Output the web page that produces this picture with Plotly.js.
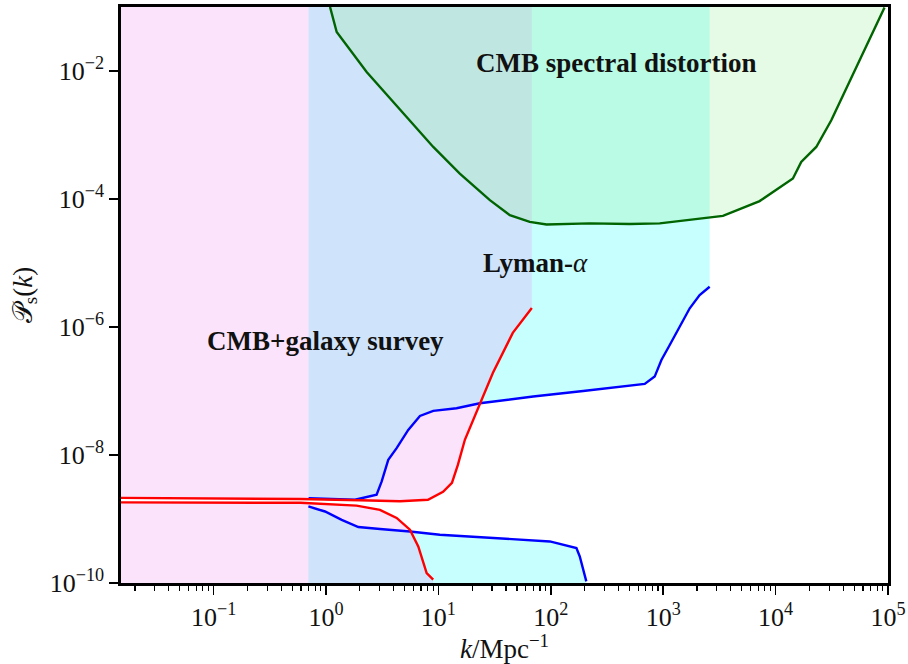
<!DOCTYPE html>
<html>
<head>
<meta charset="utf-8">
<script src="https://cdn.plot.ly/plotly-3.0.1.min.js"></script>
<style>
  html, body { margin: 0; padding: 0; background: #ffffff; }
  #chart { width: 908px; height: 664px; }
</style>
</head>
<body>
<div id="chart"></div>
<script>
// ---- axis ranges ----
const kRange = [0.015, 1e5];
const pRange = [1e-10, 1e-1];

// ---- tick labels ----
const xTickVals = [0.1, 1, 10, 100, 1000, 10000, 100000];
const xTickText = ['10<sup>−1</sup>', '10<sup>0</sup>', '10<sup>1</sup>', '10<sup>2</sup>', '10<sup>3</sup>', '10<sup>4</sup>', '10<sup>5</sup>'];
const yTickVals = [1e-10, 1e-8, 1e-6, 1e-4, 1e-2];
const yTickText = ['10<sup>−10</sup>', '10<sup>−8</sup>', '10<sup>−6</sup>', '10<sup>−4</sup>', '10<sup>−2</sup>'];

// ---- CMB+galaxy survey (red) ----
const redUpperK = [0.015, 0.076, 0.59, 2.0, 4.55, 8.07, 11.0, 13.2, 14.9, 17.2, 23.4, 30.5, 45.9, 67.8];
const redUpperP = [2.14e-9, 2.11e-9, 2.05e-9, 1.96e-9, 1.89e-9, 2.0e-9, 2.66e-9, 3.67e-9, 7.0e-9, 1.73e-8, 6.5e-8, 1.91e-7, 8.1e-7, 1.98e-6];
const redLowerK = [0.015, 0.59, 1.87, 3.02, 4.25, 5.58, 6.62, 7.86, 8.99];
const redLowerP = [1.82e-9, 1.79e-9, 1.62e-9, 1.39e-9, 1.04e-9, 6.8e-10, 3.72e-10, 1.43e-10, 1.13e-10];

// ---- Lyman-alpha (blue) ----
const blueUpperK = [0.70, 1.81, 2.82, 3.13, 3.58, 4.25, 5.39, 6.85, 9.0, 14.5, 23.4, 69.7, 194, 439, 685, 840, 964, 1143, 1402, 1722, 2110, 2590];
const blueUpperP = [2.11e-9, 2.0e-9, 2.39e-9, 3.86e-9, 8.4e-9, 1.28e-8, 2.47e-8, 4.08e-8, 4.89e-8, 5.38e-8, 6.44e-8, 8.2e-8, 1.0e-7, 1.2e-7, 1.29e-7, 1.68e-7, 3.05e-7, 5.24e-7, 1.01e-6, 1.96e-6, 3.16e-6, 4.26e-6];
const blueLowerK = [0.697, 0.98, 1.38, 1.94, 3.02, 5.58, 10.3, 23.4, 49.5, 98, 169, 181, 207];
const blueLowerP = [1.57e-9, 1.31e-9, 9.7e-10, 7.5e-10, 6.97e-10, 6.38e-10, 5.68e-10, 5.22e-10, 4.74e-10, 4.46e-10, 3.52e-10, 2.6e-10, 1.06e-10];

// ---- CMB spectral distortion (green) ----
const greenK = [1.086, 1.245, 2.30, 5.21, 9.0, 15.5, 28.7, 43.2, 65.0, 91.6, 222, 504, 931, 3400, 7210, 14260, 16900, 23000, 31300, 93100];
const greenP = [0.1, 0.0406, 9.66e-3, 1.92e-3, 6.5e-4, 2.5e-4, 9.6e-5, 5.6e-5, 4.4e-5, 4.0e-5, 4.16e-5, 4.06e-5, 4.16e-5, 5.46e-5, 9.27e-5, 2.09e-4, 3.8e-4, 6.5e-4, 1.7e-3, 0.098];

// ---- region labels ----
const labels = ['CMB spectral distortion', 'Lyman-', 'CMB+galaxy survey'];

const CYAN = 'rgba(0,255,255,0.22)';
const PINK = 'rgba(238,130,238,0.22)';
const GREEN = 'rgba(144,238,144,0.23)';

function fillAbove(xs, ys, color) {
  return {
    x: xs.concat([xs[xs.length - 1], xs[0]]),
    y: ys.concat([pRange[1], pRange[1]]),
    mode: 'lines', fill: 'toself', fillcolor: color,
    line: { width: 0 }, hoverinfo: 'skip', showlegend: false
  };
}
function fillBelow(xs, ys, color) {
  return {
    x: xs.concat([xs[xs.length - 1], xs[0]]),
    y: ys.concat([pRange[0], pRange[0]]),
    mode: 'lines', fill: 'toself', fillcolor: color,
    line: { width: 0 }, hoverinfo: 'skip', showlegend: false
  };
}
function curve(xs, ys, color) {
  return { x: xs, y: ys, mode: 'lines', line: { color: color, width: 2.4 }, hoverinfo: 'skip', showlegend: false };
}

const traces = [
  fillAbove(blueUpperK, blueUpperP, CYAN),
  fillBelow(blueLowerK, blueLowerP, CYAN),
  fillAbove(redUpperK, redUpperP, PINK),
  fillBelow(redLowerK, redLowerP, PINK),
  fillAbove(greenK, greenP, GREEN),
  curve(blueUpperK, blueUpperP, '#0000ff'),
  curve(blueLowerK, blueLowerP, '#0000ff'),
  curve(redUpperK, redUpperP, '#ff0000'),
  curve(redLowerK, redLowerP, '#ff0000'),
  curve(greenK, greenP, '#006400')
];

const serif = 'Liberation Serif, Times New Roman, serif';
const annFont = { family: serif, size: 27, color: '#111111' };

const layout = {
  width: 908, height: 664,
  margin: { l: 121, r: 20, t: 7, b: 81, pad: 0 },
  paper_bgcolor: '#ffffff', plot_bgcolor: '#ffffff',
  showlegend: false,
  font: { family: serif, size: 26, color: '#111111' },
  xaxis: {
    type: 'log',
    range: [Math.log10(kRange[0]), Math.log10(kRange[1])],
    tickmode: 'array', tickvals: xTickVals, ticktext: xTickText,
    ticks: 'outside', ticklen: 9, tickwidth: 1.5, tickcolor: '#000',
    minor: { ticks: 'outside', ticklen: 5, tickwidth: 1.2, tickcolor: '#000', dtick: 'D1', showgrid: false },
    showline: true, linewidth: 2.6, linecolor: '#000', mirror: true,
    showgrid: false, zeroline: false,
    tickfont: { family: serif, size: 26, color: '#111' },
    title: { text: '<i>k</i>/Mpc<sup>−1</sup>', font: { family: serif, size: 27, color: '#111' }, standoff: 11 }
  },
  yaxis: {
    type: 'log',
    range: [Math.log10(pRange[0]), Math.log10(pRange[1])],
    tickmode: 'array', tickvals: yTickVals, ticktext: yTickText,
    ticks: 'outside', ticklen: 9, tickwidth: 1.5, tickcolor: '#000',
    showline: true, linewidth: 2.6, linecolor: '#000', mirror: true,
    showgrid: false, zeroline: false,
    tickfont: { family: serif, size: 26, color: '#111' },
    title: { text: '𝒫<sub>s</sub>(<i>k</i>)', font: { family: serif, size: 27, color: '#111' }, standoff: 10 }
  },
  annotations: [
    { text: '<b>' + labels[0] + '</b>', xref: 'paper', yref: 'paper', x: 0.6454, y: 0.9028, showarrow: false, xanchor: 'center', yanchor: 'middle', font: annFont },
    { text: '<b>' + labels[1] + '</b><i>α</i>', xref: 'paper', yref: 'paper', x: 0.5398, y: 0.5556, showarrow: false, xanchor: 'center', yanchor: 'middle', font: annFont },
    { text: '<b>' + labels[2] + '</b>', xref: 'paper', yref: 'paper', x: 0.266, y: 0.420, showarrow: false, xanchor: 'center', yanchor: 'middle', font: annFont }
  ]
};

Plotly.newPlot('chart', traces, layout, { staticPlot: true, displayModeBar: false });
</script>
</body>
</html>
